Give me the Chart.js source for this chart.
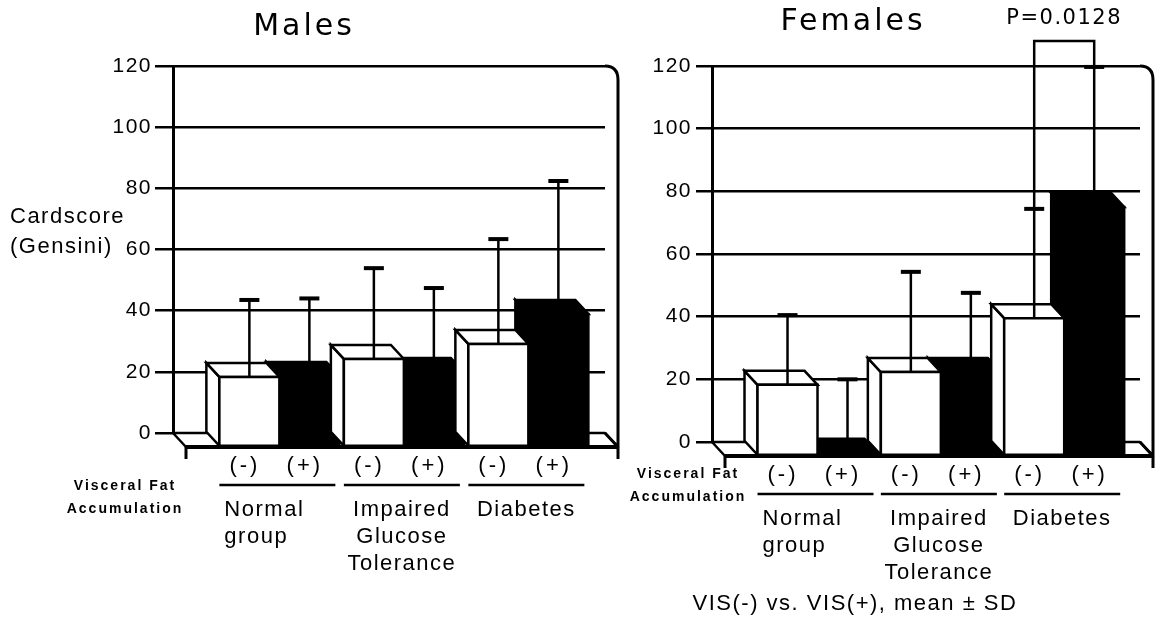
<!DOCTYPE html>
<html>
<head>
<meta charset="utf-8">
<script src="https://cdn.jsdelivr.net/npm/chart.js@4.4.0/dist/chart.umd.min.js"></script>
<style>
  html, body { margin: 0; padding: 0; background: #fff; }
  #page { position: relative; width: 1164px; height: 626px; overflow: hidden; }
  .panel { position: absolute; top: 0; height: 626px; }
  #males-box { left: 0; width: 630px; }
  #females-box { left: 600px; width: 564px; }
</style>
</head>
<body>
<div id="page">
  <div class="panel" id="males-box"><canvas id="males"></canvas></div>
  <div class="panel" id="females-box"><canvas id="females"></canvas></div>
</div>
<script>
// groups on the x axis and the VIS(-)/VIS(+) split inside each group
const groups = ['Normal group', 'Impaired Glucose Tolerance', 'Diabetes'];
const groupLines = [['Normal', 'group'], ['Impaired', 'Glucose', 'Tolerance'], ['Diabetes']];
const visLabels = ['(-)', '(+)'];

// Gensini score, mean and SD
const malesMinus = [22.9, 28.8, 33.7];
const malesMinusSD = [20.6, 25.1, 29.7];
const malesPlus = [23.2, 24.5, 43.5];
const malesPlusSD = [20.8, 22.9, 38.9];

const femalesMinus = [22.7, 26.8, 44.0];
const femalesMinusSD = [17.8, 27.5, 30.4];
const femalesPlus = [1.0, 26.8, 79.5];
const femalesPlusSD = [19.0, 20.8, 40.2];

// Diabetes VIS(-) vs VIS(+) in females
const pValue = 'P=0.0128';
const bracketLevel = 128;

const DEPTH_X = 13, DEPTH_Y = 14;
const INK = '#000';
const TEXT_FONT = '"Liberation Sans", Arial, sans-serif';
const TITLE_FONT = '"DejaVu Sans", Verdana, sans-serif';

Chart.defaults.font.family = TEXT_FONT;
Chart.defaults.font.size = 21;
Chart.defaults.color = INK;

function barProps(bar) {
    return bar.getProps(['x', 'y', 'base', 'width'], true);
}

function drawPoly(ctx, pts, fill) {
    ctx.beginPath();
    ctx.moveTo(pts[0][0], pts[0][1]);
    for (let k = 1; k < pts.length; k++) ctx.lineTo(pts[k][0], pts[k][1]);
    ctx.closePath();
    ctx.fillStyle = fill;
    ctx.fill();
    ctx.stroke();
}

// side, top and front faces of one bar, pushed forward by the depth offset
function drawCube(ctx, p, fill) {
    const x0 = p.x - p.width / 2, x1 = p.x + p.width / 2;
    const top = Math.min(p.y, p.base), bot = Math.max(p.y, p.base);
    drawPoly(ctx, [[x0, top], [x0 + DEPTH_X, top + DEPTH_Y], [x0 + DEPTH_X, bot + DEPTH_Y], [x0, bot]], fill);
    drawPoly(ctx, [[x0, top], [x1, top], [x1 + DEPTH_X, top + DEPTH_Y], [x0 + DEPTH_X, top + DEPTH_Y]], fill);
    drawPoly(ctx, [[x0 + DEPTH_X, top + DEPTH_Y], [x1 + DEPTH_X, top + DEPTH_Y],
        [x1 + DEPTH_X, bot + DEPTH_Y], [x0 + DEPTH_X, bot + DEPTH_Y]], fill);
}

const box3d = {
    id: 'box3d',
    beforeDraw(chart) {
        chart.ctx.letterSpacing = '1.5px';
    },
    beforeDatasetsDraw(chart) {
        const ctx = chart.ctx, a = chart.chartArea;
        ctx.save();
        ctx.lineWidth = 2.5;
        ctx.strokeStyle = INK;
        ctx.lineJoin = 'round';
        // floor
        drawPoly(ctx, [[a.left, a.bottom], [a.right, a.bottom], [a.right + DEPTH_X, a.bottom + DEPTH_Y],
            [a.left + DEPTH_X, a.bottom + DEPTH_Y]], '#fff');
        // right wall
        ctx.beginPath();
        ctx.moveTo(a.right, a.top);
        ctx.quadraticCurveTo(a.right + DEPTH_X, a.top, a.right + DEPTH_X, a.top + DEPTH_Y);
        ctx.lineTo(a.right + DEPTH_X, a.bottom + DEPTH_Y + 12);
        ctx.moveTo(a.right + DEPTH_X, a.bottom + DEPTH_Y);
        ctx.lineTo(a.right, a.bottom);
        ctx.lineWidth = 3;
        ctx.stroke();
        ctx.beginPath();
        ctx.moveTo(a.left + DEPTH_X, a.bottom + DEPTH_Y);
        ctx.lineTo(a.left + DEPTH_X, a.bottom + DEPTH_Y + 12);
        ctx.stroke();
        ctx.restore();
    },
    afterDatasetsDraw(chart) {
        const ctx = chart.ctx, a = chart.chartArea;
        ctx.save();
        ctx.lineWidth = 2.5;
        ctx.strokeStyle = INK;
        // filled bars first, open bars on top; right to left inside each
        for (let di = chart.data.datasets.length - 1; di >= 0; di--) {
            const fill = chart.data.datasets[di].backgroundColor;
            const bars = chart.getDatasetMeta(di).data.map(barProps).sort((p, q) => q.x - p.x);
            bars.forEach(p => drawCube(ctx, p, fill));
        }
        ctx.lineWidth = 4;
        ctx.beginPath();
        ctx.moveTo(a.left + DEPTH_X, a.bottom + DEPTH_Y);
        ctx.lineTo(a.right + DEPTH_X, a.bottom + DEPTH_Y);
        ctx.stroke();
        ctx.restore();
    }
};

// upper SD whiskers from the front top of each bar
const errorBars = {
    id: 'errorBars',
    afterDatasetsDraw(chart) {
        const ctx = chart.ctx, yScale = chart.scales.y;
        ctx.save();
        ctx.strokeStyle = INK;
        chart.data.datasets.forEach((ds, di) => {
            chart.getDatasetMeta(di).data.forEach((bar, i) => {
                const p = barProps(bar);
                const x = p.x + DEPTH_X;
                const yTop = yScale.getPixelForValue(ds.data[i].y + ds.sd[i]);
                ctx.lineWidth = 2.5;
                ctx.beginPath();
                ctx.moveTo(x, p.y + DEPTH_Y);
                ctx.lineTo(x, yTop);
                ctx.stroke();
                ctx.lineWidth = 4;
                ctx.beginPath();
                ctx.moveTo(x - 10, yTop);
                ctx.lineTo(x + 10, yTop);
                ctx.stroke();
            });
        });
        ctx.restore();
    }
};

const decor = {
    id: 'decor',
    afterDraw(chart, args, o) {
        const ctx = chart.ctx, a = chart.chartArea, yScale = chart.scales.y;
        const minusBars = chart.getDatasetMeta(0).data.map(barProps);
        const plusBars = chart.getDatasetMeta(1).data.map(barProps);
        const yBase = a.bottom + DEPTH_Y;
        ctx.save();
        ctx.fillStyle = INK;
        ctx.strokeStyle = INK;
        ctx.textBaseline = 'middle';

        // title
        ctx.font = `30px ${TITLE_FONT}`;
        ctx.letterSpacing = '3px';
        ctx.textAlign = 'center';
        ctx.fillText(o.title, o.titleX, o.titleY);

        // group labels under the floor
        groups.forEach((g, i) => {
            const m = minusBars[i], p = plusBars[i];
            ctx.font = `22px ${TEXT_FONT}`;
            ctx.letterSpacing = '3px';
            ctx.textAlign = 'center';
            ctx.fillText(visLabels[0], m.x + DEPTH_X / 2 + 2, yBase + 19);
            ctx.fillText(visLabels[1], p.x + DEPTH_X / 2 + 2, yBase + 19);
            const left = m.x - m.width / 2 + DEPTH_X, right = p.x + p.width / 2 + DEPTH_X - 4;
            ctx.lineWidth = 2.5;
            ctx.beginPath();
            ctx.moveTo(left, yBase + 38);
            ctx.lineTo(right, yBase + 38);
            ctx.stroke();
            ctx.letterSpacing = '1.5px';
            const align = o.groupAlign[i];
            ctx.textAlign = align;
            const tx = align === 'left' ? left + 5 : (left + right) / 2;
            groupLines[i].forEach((line, k) => ctx.fillText(line, tx, yBase + 63 + k * 27));
        });

        // row caption
        ctx.font = `bold 14px ${TEXT_FONT}`;
        ctx.letterSpacing = '2px';
        ctx.textAlign = 'center';
        o.caption.forEach((line, k) => ctx.fillText(line, o.captionX, o.captionY + k * 23));

        if (o.axisTitle) {
            ctx.font = `22px ${TEXT_FONT}`;
            ctx.letterSpacing = '1.5px';
            ctx.textAlign = 'left';
            o.axisTitle.forEach((line, k) => ctx.fillText(line, o.axisTitleX, o.axisTitleY + k * 30));
        }

        if (o.bracket) {
            const m = minusBars[2], p = plusBars[2];
            const ds = chart.data.datasets;
            const xl = m.x + DEPTH_X, xr = p.x + DEPTH_X;
            const yb = yScale.getPixelForValue(bracketLevel);
            ctx.lineWidth = 2.5;
            ctx.beginPath();
            ctx.moveTo(xl, yScale.getPixelForValue(ds[0].data[2].y + ds[0].sd[2]));
            ctx.lineTo(xl, yb);
            ctx.lineTo(xr, yb);
            ctx.lineTo(xr, yScale.getPixelForValue(ds[1].data[2].y + ds[1].sd[2]));
            ctx.stroke();
            ctx.font = `21px ${TITLE_FONT}`;
            ctx.letterSpacing = '1.5px';
            ctx.textAlign = 'center';
            ctx.fillText(pValue, (xl + xr) / 2, yb - 22);
        }

        if (o.note) {
            ctx.font = `22px ${TEXT_FONT}`;
            ctx.letterSpacing = '1.5px';
            ctx.textAlign = 'center';
            ctx.fillText(o.note, o.noteX, o.noteY);
        }
        ctx.restore();
    }
};

function makeChart(id, minus, minusSD, plus, plusSD, axis, decorOpts) {
    return new Chart(document.getElementById(id), {
        type: 'bar',
        data: {
            datasets: [
                { label: 'VIS(-)', data: minus.map((v, i) => ({ x: i, y: v })), sd: minusSD, backgroundColor: '#fff' },
                { label: 'VIS(+)', data: plus.map((v, i) => ({ x: i, y: v })), sd: plusSD, backgroundColor: '#000' }
            ]
        },
        options: {
            responsive: true,
            maintainAspectRatio: false,
            animation: false,
            events: [],
            layout: { padding: axis.padding },
            datasets: { bar: { barThickness: 60, borderWidth: 0 } },
            plugins: {
                legend: { display: false },
                tooltip: { enabled: false },
                decor: decorOpts
            },
            scales: {
                x: { type: 'linear', display: false, offset: false, min: -0.75, max: 2.72 },
                y: {
                    min: 0,
                    max: 120,
                    ticks: {
                        stepSize: 20,
                        color: INK,
                        padding: axis.tickPadding,
                        font: { family: TEXT_FONT, size: 21 }
                    },
                    grid: { color: INK, lineWidth: 2.5, tickLength: axis.tickLength },
                    border: { color: INK, width: 3 },
                    afterFit(scale) { scale.width = axis.width; }
                }
            }
        },
        plugins: [box3d, errorBars, decor]
    });
}

makeChart('males', malesMinus, malesMinusSD, malesPlus, malesPlusSD,
    { padding: { left: 0, top: 66, right: 25, bottom: 193 }, width: 173, tickLength: 18, tickPadding: 3 },
    {
        title: 'Males', titleX: 304, titleY: 27,
        axisTitle: ['Cardscore', '(Gensini)'], axisTitleX: 10, axisTitleY: 217,
        caption: ['Visceral Fat', 'Accumulation'], captionX: 125, captionY: 486,
        groupAlign: ['left', 'center', 'center']
    });

makeChart('females', femalesMinus, femalesMinusSD, femalesPlus, femalesPlusSD,
    { padding: { left: 0, top: 66, right: 24, bottom: 184 }, width: 112, tickLength: 16, tickPadding: 4 },
    {
        title: 'Females', titleX: 253, titleY: 22,
        caption: ['Visceral Fat', 'Accumulation'], captionX: 88, captionY: 474,
        groupAlign: ['left', 'center', 'center'],
        bracket: true,
        note: 'VIS(-) vs. VIS(+), mean \u00b1 SD', noteX: 255, noteY: 604
    });
</script>
</body>
</html>
